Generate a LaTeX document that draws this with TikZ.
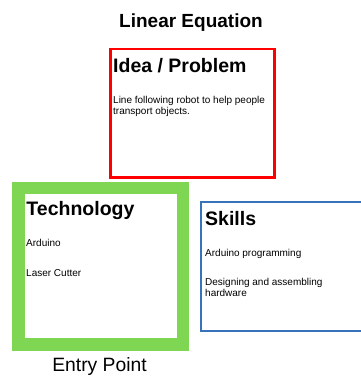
\documentclass[tikz,border=0pt]{standalone}
\usepackage{fontspec}
\setmainfont{Liberation Sans}
\usetikzlibrary{positioning}

\definecolor{ideared}{RGB}{255,0,0}
\definecolor{techgreen}{RGB}{126,214,82}
\definecolor{skillblue}{RGB}{56,114,184}

\begin{document}
\begin{tikzpicture}[x=1pt, y=-1pt,
    title/.style={font=\fontsize{19}{22}\selectfont\bfseries, anchor=base, inner sep=0},
    head/.style={font=\fontsize{19.5}{22}\selectfont\bfseries, anchor=base west, inner sep=0},
    body/.style={font=\fontsize{10}{11}\selectfont, anchor=base west, inner sep=0},
    caption/.style={font=\fontsize{19.3}{22}\selectfont, anchor=base, inner sep=0},
]
\useasboundingbox (0,0) rectangle (360,376);

% Title
\node[title] (title) at (191,27) {Linear Equation};

% Idea / Problem box
\draw[ideared, line width=2.5] (110.3,49) rectangle (274.7,177.7);
\node[head] (idea) at (113,72) {Idea / Problem};
\node[body] (idea1) at (113,103.5) {Line following robot to help people};
\node[body] (idea2) at (113,114) {transport objects.};

% Technology box
\draw[techgreen, line width=12.5] (18.6,187.9) rectangle (183,344.3);
\node[head] (tech) at (26.3,215) {Technology};
\node[body] (tech1) at (26,246.7) {Arduino};
\node[body] (tech2) at (26,276) {Laser Cutter};

% Skills box (runs off the right edge)
\draw[skillblue, line width=2.2] (201.3,202) rectangle (372,330.7);
\node[head] (skills) at (205,225) {Skills};
\node[body] (skills1) at (205,256) {Arduino programming};
\node[body] (skills2) at (205,285.3) {Designing and assembling};
\node[body] (skills3) at (205,296) {hardware};

% Entry point label
\node[caption] (entry) at (99.5,371.5) {Entry Point};
\end{tikzpicture}
\end{document}
